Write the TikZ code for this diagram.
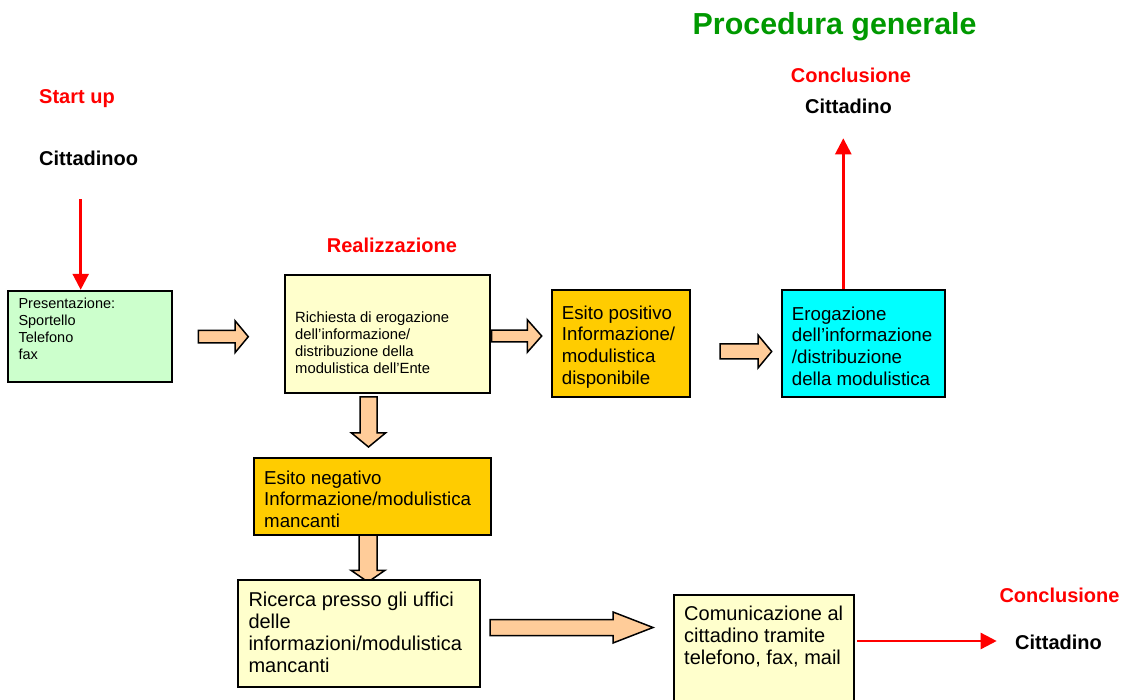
\documentclass[tikz,border=0pt]{standalone}
\usepackage{fontspec}
\setmainfont{Liberation Sans}
\usetikzlibrary{calc,arrows.meta}
\definecolor{titlegreen}{RGB}{0,153,0}
\definecolor{pred}{RGB}{255,0,0}
\definecolor{lightgreen}{RGB}{204,255,204}
\definecolor{paleyellow}{RGB}{255,255,204}
\definecolor{gold}{RGB}{255,204,0}
\definecolor{cyanbox}{RGB}{0,255,255}
\definecolor{peach}{RGB}{255,204,153}
\tikzset{
  procbox/.style={draw=black, line width=1.8pt, rectangle, inner sep=0pt},
  boxtext/.style={anchor=north west, inner sep=0pt, align=left},
  smalltext/.style={font=\fontsize{14.5}{17}\selectfont},
  midtext/.style={font=\fontsize{18.7}{21.7}\selectfont},
  bigtext/.style={font=\fontsize{20}{22}\selectfont},
  redlabel/.style={anchor=base west, inner sep=0pt, text=pred, font=\bfseries\fontsize{20}{24}\selectfont},
  blacklabel/.style={anchor=base west, inner sep=0pt, text=black, font=\bfseries\fontsize{20}{24}\selectfont},
  redarrow/.style={draw=pred, line width=2.5pt, -{Triangle[length=16pt,width=16pt]}},
  blockarrow/.style={draw=black, fill=peach, line width=1.5pt, line join=miter},
}
% horizontal block arrow: #1 start, #2 tip, #3 shaft half, #4 head half, #5 head length
\newcommand{\myHarrow}[5]{%
  \draw[blockarrow] let \p1=(#1), \p2=(#2) in
    (\x1,\y1+#3) -- (\x2-#5,\y1+#3) -- (\x2-#5,\y1+#4) -- (\x2,\y1)
    -- (\x2-#5,\y1-#4) -- (\x2-#5,\y1-#3) -- (\x1,\y1-#3) -- cycle;}
% downward block arrow
\newcommand{\myVarrow}[5]{%
  \draw[blockarrow] let \p1=(#1), \p2=(#2) in
    (\x1-#3,\y1) -- (\x1-#3,\y2+#5) -- (\x1-#4,\y2+#5) -- (\x1,\y2)
    -- (\x1+#4,\y2+#5) -- (\x1+#3,\y2+#5) -- (\x1+#3,\y1) -- cycle;}
\begin{document}
\begin{tikzpicture}[x=1pt,y=-1pt]
\useasboundingbox (0,0) rectangle (1122,700);
\clip (0,0) rectangle (1122,700);

% title and labels
\node[anchor=base west, inner sep=0pt, text=titlegreen, font=\bfseries\fontsize{30.4}{36}\selectfont] (title) at (692.5,34.8) {Procedura generale};
\node[redlabel] (startup) at (39,103.3) {Start up};
\node[blacklabel] (citt0) at (39,165.3) {Cittadinoo};
\node[redlabel] (real) at (326.7,252.7) {Realizzazione};
\node[redlabel] (concl1) at (790.7,82.6) {Conclusione};
\node[blacklabel] (citt1) at (805,113.6) {Cittadino};
\node[redlabel] (concl2) at (999.3,602.7) {Conclusione};
\node[blacklabel] (citt2) at (1015,649.3) {Cittadino};

% boxes
\node[procbox, fill=lightgreen, minimum width=163.4pt, minimum height=91pt] (pres) at (90,336.2) {};
\node[procbox, fill=paleyellow, minimum width=205pt, minimum height=118pt] (req) at (387.5,334) {};
\node[procbox, fill=gold, minimum width=138.3pt, minimum height=107.3pt] (pos) at (620.85,343.65) {};
\node[procbox, fill=cyanbox, minimum width=163.3pt, minimum height=107pt] (ero) at (863.35,343.5) {};
\node[procbox, fill=gold, minimum width=236.7pt, minimum height=76.7pt] (neg) at (372.35,496.65) {};

% down arrow between negative box and search box (under the box)
\coordinate (d2s) at (368,535);
\coordinate (d2e) at (368,582);
\myVarrow{d2s}{d2e}{9pt}{17pt}{11.7pt}

\node[procbox, fill=paleyellow, minimum width=241.7pt, minimum height=107.3pt] (ric) at (359.15,633.65) {};
\node[procbox, fill=paleyellow, minimum width=180pt, minimum height=120pt] (com) at (764,655) {};

% box texts
\node[boxtext, smalltext] (prest) at (18.3,297.8) {\rule{0pt}{0.75em}Presentazione:\\Sportello\\Telefono\\fax};
\node[boxtext, font=\fontsize{14.8}{17}\selectfont] (reqt) at (295,311.2) {\rule{0pt}{0.75em}Richiesta di erogazione\\dell’informazione/\\distribuzione della\\modulistica dell’Ente};
\node[boxtext, midtext] (post) at (561.7,305) {\rule{0pt}{0.75em}Esito positivo\\Informazione/\\modulistica\\disponibile};
\node[boxtext, midtext] (erot) at (791.7,306) {\rule{0pt}{0.75em}Erogazione\\dell’informazione\\/distribuzione\\della modulistica};
\node[boxtext, midtext] (negt) at (264,470) {\rule{0pt}{0.75em}Esito negativo\\Informazione/modulistica\\mancanti};
\node[boxtext, bigtext] (rict) at (248.3,591.7) {\rule{0pt}{0.75em}Ricerca presso gli uffici\\delle\\informazioni/modulistica\\mancanti};
\node[boxtext, bigtext] (comt) at (684,605.5) {\rule{0pt}{0.75em}Comunicazione al\\cittadino tramite\\telefono, fax, mail};

% block arrows
\coordinate (a1s) at (198.3,336.7); \coordinate (a1e) at (248.3,336.7);
\myHarrow{a1s}{a1e}{6.2pt}{16pt}{13.3pt}
\coordinate (a2s) at (491.7,336); \coordinate (a2e) at (541.7,336);
\myHarrow{a2s}{a2e}{5.8pt}{16.3pt}{14.4pt}
\coordinate (a3s) at (720,351.5); \coordinate (a3e) at (771.7,351.5);
\myHarrow{a3s}{a3e}{7.5pt}{16.5pt}{13.7pt}
\coordinate (d1s) at (368.5,397); \coordinate (d1e) at (368.5,447);
\myVarrow{d1s}{d1e}{8.5pt}{17pt}{14pt}
\coordinate (a6s) at (490,627.5); \coordinate (a6e) at (653,627.5);
\myHarrow{a6s}{a6e}{8pt}{15.5pt}{40pt}

% red connectors
\coordinate (r1s) at (80.7,199.3);
\draw[redarrow] (r1s) -- (r1s |- pres.north);
\coordinate (r2e) at (843.3,138.3);
\draw[redarrow] (r2e |- ero.north) -- (r2e);
\coordinate (r3s) at (857.3,641);
\coordinate (r3e) at (996.7,641);
\draw[redarrow] (r3s) -- (r3e);
\end{tikzpicture}
\end{document}
